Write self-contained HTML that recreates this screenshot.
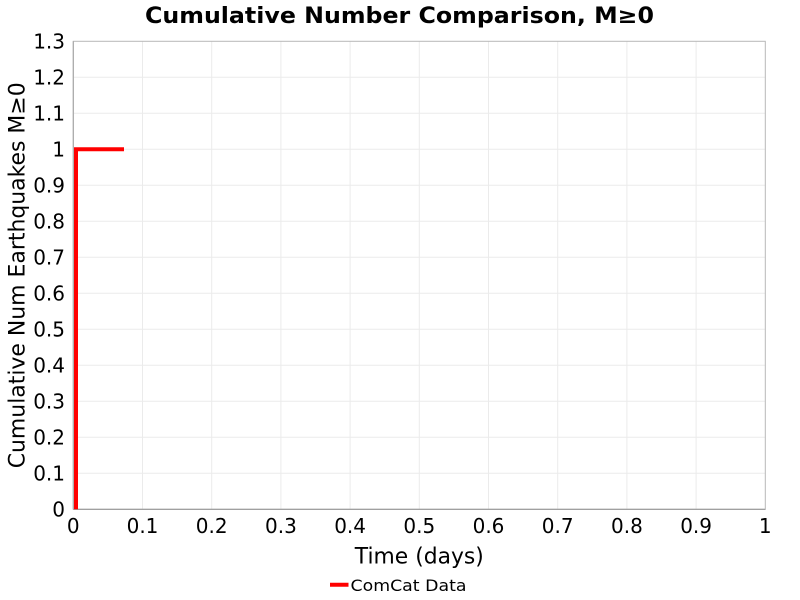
<!DOCTYPE html>
<html>
<head>
<meta charset="utf-8">
<style>
  html, body { margin: 0; padding: 0; background: #ffffff; }
  svg { display: block; }
  text { font-family: "DejaVu Sans", "Liberation Sans", sans-serif; fill: #000; }
</style>
</head>
<body>
<svg width="800" height="600" viewBox="0 0 800 600" xmlns="http://www.w3.org/2000/svg">
  <rect x="0" y="0" width="800" height="600" fill="#ffffff"/>
  <!-- Title -->
  <text x="399.5" y="23" font-size="22" font-weight="bold" text-anchor="middle" textLength="509" lengthAdjust="spacingAndGlyphs">Cumulative Number Comparison, M≥0</text>

  <!-- Plot background -->
  <rect x="73.3" y="41.3" width="692" height="468" fill="#ffffff"/>

  <!-- Grid lines -->
  <g stroke="#ebebeb" stroke-width="1">
    <line x1="142.5" y1="41.3" x2="142.5" y2="509.3"/>
    <line x1="211.7" y1="41.3" x2="211.7" y2="509.3"/>
    <line x1="280.9" y1="41.3" x2="280.9" y2="509.3"/>
    <line x1="350.1" y1="41.3" x2="350.1" y2="509.3"/>
    <line x1="419.3" y1="41.3" x2="419.3" y2="509.3"/>
    <line x1="488.5" y1="41.3" x2="488.5" y2="509.3"/>
    <line x1="557.7" y1="41.3" x2="557.7" y2="509.3"/>
    <line x1="626.9" y1="41.3" x2="626.9" y2="509.3"/>
    <line x1="696.1" y1="41.3" x2="696.1" y2="509.3"/>

    <line x1="73.3" y1="473.3" x2="765.3" y2="473.3"/>
    <line x1="73.3" y1="437.3" x2="765.3" y2="437.3"/>
    <line x1="73.3" y1="401.3" x2="765.3" y2="401.3"/>
    <line x1="73.3" y1="365.3" x2="765.3" y2="365.3"/>
    <line x1="73.3" y1="329.3" x2="765.3" y2="329.3"/>
    <line x1="73.3" y1="293.3" x2="765.3" y2="293.3"/>
    <line x1="73.3" y1="257.3" x2="765.3" y2="257.3"/>
    <line x1="73.3" y1="221.3" x2="765.3" y2="221.3"/>
    <line x1="73.3" y1="185.3" x2="765.3" y2="185.3"/>
    <line x1="73.3" y1="149.3" x2="765.3" y2="149.3"/>
    <line x1="73.3" y1="113.3" x2="765.3" y2="113.3"/>
    <line x1="73.3" y1="77.3" x2="765.3" y2="77.3"/>
  </g>

  <!-- Plot border -->
  <rect x="73.3" y="41.3" width="692" height="468" fill="none" stroke="#b8b8b8" stroke-width="1"/>
  <line x1="73.3" y1="509.3" x2="765.3" y2="509.3" stroke="#999999" stroke-width="1.2"/>
  <line x1="73.3" y1="41.3" x2="73.3" y2="509.3" stroke="#aaaaaa" stroke-width="1.2"/>

  <!-- Data series -->
  <path d="M76,509.3 L76,149.3 L124,149.3" fill="none" stroke="#ff0000" stroke-width="4" stroke-linejoin="miter" stroke-linecap="butt"/>

  <!-- Y tick labels -->
  <g font-size="20" text-anchor="end">
    <text x="65" y="516.6">0</text>
    <text x="65" y="480.6">0.1</text>
    <text x="65" y="444.6">0.2</text>
    <text x="65" y="408.6">0.3</text>
    <text x="65" y="372.6">0.4</text>
    <text x="65" y="336.6">0.5</text>
    <text x="65" y="300.6">0.6</text>
    <text x="65" y="264.6">0.7</text>
    <text x="65" y="228.6">0.8</text>
    <text x="65" y="192.6">0.9</text>
    <text x="65" y="156.6">1</text>
    <text x="65" y="120.6">1.1</text>
    <text x="65" y="84.6">1.2</text>
    <text x="65" y="48.6">1.3</text>
  </g>

  <!-- X tick labels -->
  <g font-size="20" text-anchor="middle">
    <text x="73.3" y="533">0</text>
    <text x="142.5" y="533">0.1</text>
    <text x="211.7" y="533">0.2</text>
    <text x="280.9" y="533">0.3</text>
    <text x="350.1" y="533">0.4</text>
    <text x="419.3" y="533">0.5</text>
    <text x="488.5" y="533">0.6</text>
    <text x="557.7" y="533">0.7</text>
    <text x="626.9" y="533">0.8</text>
    <text x="696.1" y="533">0.9</text>
    <text x="765.3" y="533">1</text>
  </g>

  <!-- Axis labels -->
  <text x="419.3" y="563.3" font-size="22" text-anchor="middle" textLength="129" lengthAdjust="spacingAndGlyphs">Time (days)</text>
  <text transform="translate(24.5,275.3) rotate(-90)" x="0" y="0" font-size="22" text-anchor="middle" textLength="386" lengthAdjust="spacingAndGlyphs">Cumulative Num Earthquakes M≥0</text>

  <!-- Legend -->
  <line x1="330" y1="584.7" x2="348.5" y2="584.7" stroke="#ff0000" stroke-width="4"/>
  <text x="350.5" y="591" font-size="16" textLength="116" lengthAdjust="spacingAndGlyphs">ComCat Data</text>
</svg>
</body>
</html>
